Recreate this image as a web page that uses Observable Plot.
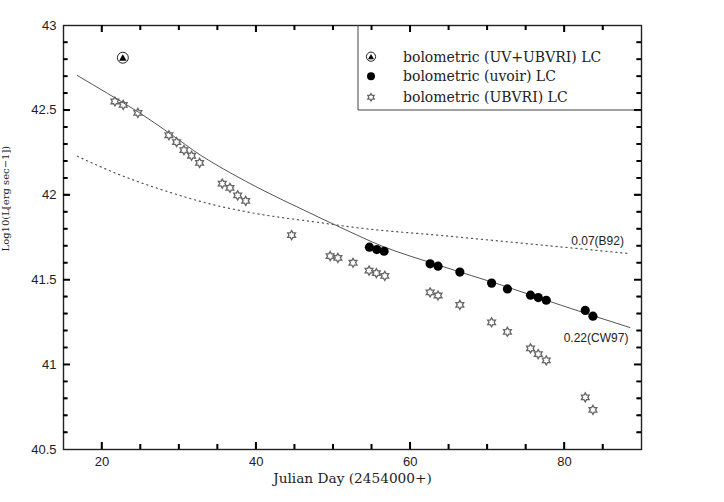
<!DOCTYPE html>
<html><head><meta charset="utf-8">
<script src="https://cdn.jsdelivr.net/npm/d3@7"></script>
<script src="https://cdn.jsdelivr.net/npm/@observablehq/plot@0.6"></script>
<style>
html,body{margin:0;padding:0;background:#fff;}
#chart{width:724px;height:502px;}
</style></head><body><div id="chart"></div>
<script>
// ---- data ----
const uvDays = [22.7];
const uvLum = [42.81];
const uvoirDays = [54.7,55.65,56.6,62.57,63.6,66.43,70.55,72.6,75.6,76.6,77.64,82.7,83.7];
const uvoirLum = [41.693,41.679,41.669,41.595,41.581,41.546,41.481,41.447,41.41,41.396,41.38,41.32,41.286];
const ubvriDays = [21.67,22.75,24.65,28.68,29.68,30.63,31.62,32.66,35.6,36.6,37.6,38.64,44.6,49.6,50.6,52.57,54.65,55.6,56.69,62.57,63.6,66.43,70.55,72.6,75.6,76.6,77.64,82.7,83.7];
const ubvriLum = [42.552,42.532,42.485,42.353,42.312,42.265,42.232,42.19,42.068,42.043,41.998,41.966,41.764,41.64,41.63,41.601,41.555,41.54,41.524,41.426,41.408,41.353,41.25,41.194,41.096,41.062,41.025,40.807,40.734];
const cw97Days = [16.8,20.7,24.7,28.9,32.8,36.7,40.6,45.8,51,56.2,64,71.8,79.6,88.5];
const cw97Lum = [42.705,42.6,42.49,42.36,42.235,42.13,42.035,41.92,41.808,41.702,41.582,41.47,41.35,41.219];
const b92Days = [16.8,22,28.9,34,39.5,47.9,53.6,64,76,88.5];
const b92Lum = [42.229,42.125,42.015,41.948,41.895,41.84,41.805,41.762,41.71,41.655];
const annotLabels = ["0.07(B92)","0.22(CW97)"];
const annotDays = [84.3,84.1];
const annotLum = [41.728,41.159];
const legendLabels = ["bolometric (UV+UBVRI) LC","bolometric (uvoir) LC","bolometric (UBVRI) LC"];
const xTicks = [20,25,30,35,40,45,50,55,60,65,70,75,80,85];
const xTickLabels = [20,40,60,80];
const yTicks = [40.6,40.7,40.8,40.9,41,41.1,41.2,41.3,41.4,41.5,41.6,41.7,41.8,41.9,42,42.1,42.2,42.3,42.4,42.5,42.6,42.7,42.8,42.9];
const yTickLabels = [40.5,41,41.5,42,42.5,43];

// ---- build ----
const xDom = [15, 90], yDom = [40.5, 43];
const zip = (xs, ys) => xs.map((x,i)=>({x, y: ys[i]}));
const uv = zip(uvDays, uvLum), uvoir = zip(uvoirDays, uvoirLum), ubvri = zip(ubvriDays, ubvriLum);
const cw97 = zip(cw97Days, cw97Lum), b92 = zip(b92Days, b92Lum);
const annots = annotLabels.map((t,i)=>({t, x: annotDays[i], y: annotLum[i]}));

const hexagram = {draw(ctx, size){
  const R = Math.sqrt(size/Math.PI)*1.05, r = R/Math.sqrt(3);
  for (let i=0;i<12;i++){
    const a = i*Math.PI/6 - Math.PI/2, rad = i%2===0 ? R : r;
    const x = rad*Math.cos(a), y = rad*Math.sin(a);
    i ? ctx.lineTo(x,y) : ctx.moveTo(x,y);
  }
  ctx.closePath();
}};

const W = 724, H = 502, mL = 63, mT = 25, mR = 83, mB = 53;
const iW = W-mL-mR, iH = H-mT-mB;
const dx1 = (xDom[1]-xDom[0])/iW, dy1 = (yDom[1]-yDom[0])/iH; // data units per pixel
const isMajorX = d => d % 20 === 0;
const isMajorY = d => Math.abs(d*2 - Math.round(d*2)) < 1e-6;
const xT = xTicks.map(v => ({v, len: isMajorX(v) ? 7 : 5}));
const yT = yTicks.map(v => ({v, len: isMajorY(v) ? 7 : 4.5}));
const serif = "DejaVu Serif";
const sans = "Liberation Sans";
const ink = "#222";
const tk = {stroke: "#000", strokeWidth: 1.5};

const plot = Plot.plot({
  width: W, height: H,
  marginLeft: mL, marginTop: mT, marginRight: mR, marginBottom: mB,
  x: {domain: xDom, axis: null},
  y: {domain: yDom, axis: null},
  style: {fontFamily: sans, background: "#fff", color: ink},
  marks: [
    Plot.frame({stroke: ink, strokeWidth: 1.4}),
    Plot.axisX(xTickLabels, {anchor: "bottom", tickSize: 0, tickPadding: 7, label: null, fontSize: 13, fontFamily: sans, fill: ink, tickFormat: d=>d}),
    Plot.axisY(yTickLabels, {anchor: "left", tickSize: 0, tickPadding: 7, label: null, fontSize: 13, fontFamily: sans, fill: ink, tickFormat: d=>d}),
    // curves
    Plot.line(b92, {x: "x", y: "y", curve: "monotone-x", stroke: "#555", strokeWidth: 1.2, strokeDasharray: "1.2,3.8"}),
    Plot.line(cw97, {x: "x", y: "y", curve: "monotone-x", stroke: "#555", strokeWidth: 1}),
    // points
    Plot.dot(ubvri, {x: "x", y: "y", symbol: hexagram, r: 4.3, stroke: "#666", strokeWidth: 1.3, fill: "none"}),
    Plot.dot(uvoir, {x: "x", y: "y", r: 4.6, fill: "#000", stroke: "none"}),
    Plot.dot(uv, {x: "x", y: "y", r: 5.5, fill: "none", stroke: ink, strokeWidth: 1}),
    Plot.dot(uv, {x: "x", y: "y", symbol: "triangle", r: 2.8, dy: 0.8, fill: "#000"}),
    // annotations
    Plot.text(annots, {x: "x", y: "y", text: "t", fontFamily: sans, fontSize: 12, fill: ink}),
    // axis titles
    Plot.text(["Julian Day (2454000+)"], {frameAnchor: "bottom", dy: 33, fontFamily: serif, fontSize: 13.7, fill: ink}),
    Plot.text(["Log10(L[erg sec\u22121])"], {frameAnchor: "left", dx: -58, dy: 14, rotate: -90, fontFamily: serif, fontSize: 10, fill: ink}),
    // inward, mirrored ticks (lengths converted from pixels into data units)
    Plot.ruleX(xT, {x: "v", y1: yDom[0], y2: d => yDom[0] + d.len*dy1, ...tk}),
    Plot.ruleX(xT, {x: "v", y1: yDom[1], y2: d => yDom[1] - d.len*dy1, ...tk}),
    Plot.ruleY(yT, {y: "v", x1: xDom[0], x2: d => xDom[0] + d.len*dx1, ...tk}),
    Plot.ruleY(yT, {y: "v", x1: xDom[1], x2: d => xDom[1] - d.len*dx1, ...tk})
  ]
});

const svg = d3.select(plot);
const xs = plot.scale("x"), ys = plot.scale("y");

// legend box in the upper right corner of the frame
const lx0 = 358, ly1 = 110;
const lg = svg.append("g");
lg.append("path").attr("d", `M${lx0},${mT}V${ly1}H${mL+iW}`).attr("fill", "none").attr("stroke", "#444").attr("stroke-width", 1);
const rowsY = [56.7, 76.3, 97.3], symX = 371, txtX = 403;
lg.append("circle").attr("cx", symX).attr("cy", rowsY[0]).attr("r", 4.6).attr("fill", "none").attr("stroke", ink).attr("stroke-width", 1);
lg.append("path").attr("transform", `translate(${symX},${rowsY[0]+0.8})`).attr("d", d3.symbol(d3.symbolTriangle, 16)()).attr("fill", "#000");
lg.append("circle").attr("cx", symX).attr("cy", rowsY[1]).attr("r", 4).attr("fill", "#000");
lg.append("path").attr("transform", `translate(${symX},${rowsY[2]})`).attr("d", d3.symbol(hexagram, Math.PI*3.6*3.6)()).attr("fill", "none").attr("stroke", "#666").attr("stroke-width", 1.2);
legendLabels.forEach((t, i) => {
  lg.append("text").attr("x", txtX).attr("y", rowsY[i]).attr("dy", "0.35em")
    .attr("text-anchor", "start")
    .attr("font-family", serif).attr("font-size", 14).attr("fill", ink).text(t);
});

// coincident tick path on top (same positions via the plot's scales)
let d = "";
for (const t of xT) { const px = xs.apply(t.v); d += `M${px},${mT+iH}v${-t.len}M${px},${mT}v${t.len}`; }
for (const t of yT) { const py = ys.apply(t.v); d += `M${mL},${py}h${t.len}M${mL+iW},${py}h${-t.len}`; }
svg.append("path").attr("d", d).attr("style", "fill:none;stroke:#000;stroke-width:1.5px");

document.getElementById("chart").appendChild(plot);
</script>
</body></html>
